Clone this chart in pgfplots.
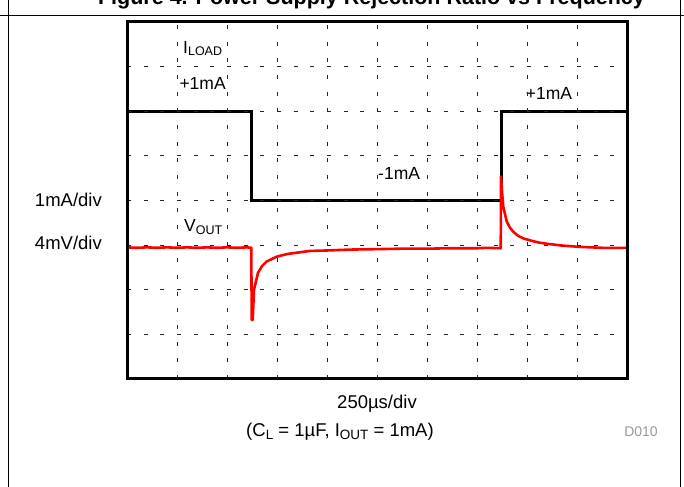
\documentclass[border=0pt]{standalone}
\usepackage{pgfplots}
\pgfplotsset{compat=1.18}
\usepackage{fontspec}
\setmainfont{Liberation Sans}
\newcommand{\lab}{\fontsize{17.5bp}{20bp}\selectfont}
\newcommand{\labb}{\fontsize{18.5bp}{21bp}\selectfont}
\newcommand{\sub}[1]{\raisebox{-2.5bp}{\fontsize{12.5bp}{14bp}\selectfont #1}}
\newcommand{\subb}[1]{\raisebox{-2.5bp}{\fontsize{13.5bp}{15bp}\selectfont #1}}
\begin{document}
\begin{tikzpicture}
% frame rules of the datasheet figure
\draw[line width=0.9bp] (0bp,472bp) -- (684bp,472bp);
\draw[line width=0.9bp] (8.5bp,0bp) -- (8.5bp,487bp);
\draw[line width=0.9bp] (680.5bp,0bp) -- (680.5bp,487bp);
\node[anchor=base, font=\fontsize{21.5bp}{24bp}\selectfont\bfseries, inner sep=0pt] at (371.5bp,482.3bp) {Figure 4. Power Supply Rejection Ratio vs Frequency};
\begin{axis}[
  at={(127bp,108bp)}, anchor=south west,
  scale only axis, width=500bp, height=357bp,
  xmin=0, xmax=10, ymin=0, ymax=8,
  xtick={1,2,3,4,5,6,7,8,9}, ytick={1,2,3,4,5,6,7},
  xticklabels={}, yticklabels={},
  major tick length=0pt,
  grid=major,
  major grid style={black!85, line width=0.9bp, dash pattern=on 4bp off 12.67bp},
  axis line style={line width=3bp},
  axis on top,
  clip=false,
]
\addplot[black, line width=3bp, line join=miter] coordinates {
 (0,6) (2.48,6) (2.48,4) (7.48,4) (7.48,6) (10,6)
};
\addplot[red, line width=2.6bp, line join=round] coordinates {
 (0,2.95) (0.2,2.94) (0.4,2.95) (0.6,2.94) (0.8,2.95) (1.0,2.94) (1.2,2.95)
 (1.4,2.94) (1.6,2.95) (1.8,2.94) (2.0,2.95) (2.2,2.94) (2.4,2.95) (2.485,2.94)
 (2.495,1.32) (2.514,1.32) (2.54,2.0) (2.62,2.38) (2.70,2.53) (2.79,2.63)
 (2.99,2.74) (3.20,2.80) (3.39,2.83) (3.66,2.87) (4.0,2.88) (4.46,2.90)
 (5.0,2.91) (5.46,2.92) (6.0,2.92) (6.46,2.93) (7.0,2.93) (7.2,2.94) (7.475,2.93)
 (7.48,4.54) (7.50,4.20) (7.526,3.86) (7.594,3.53) (7.66,3.39) (7.726,3.30)
 (7.82,3.21) (7.926,3.15) (8.05,3.11) (8.226,3.06) (8.4,3.03) (8.7,2.99)
 (9.06,2.96) (9.5,2.94) (10,2.94)
};
\node[anchor=base west, inner sep=0pt, font=\lab] at (axis cs:1.12,7.30) {I\sub{LOAD}};
\node[anchor=base west, inner sep=0pt, font=\lab] at (axis cs:1.046,6.49) {+1mA};
\node[anchor=base west, inner sep=0pt, font=\lab] at (axis cs:7.974,6.27) {+1mA};
\node[anchor=base west, inner sep=0pt, font=\lab] at (axis cs:5.02,4.46) {-1mA};
\node[anchor=base west, inner sep=0pt, font=\lab] at (axis cs:1.14,3.30) {V\sub{OUT}};
\end{axis}
\node[anchor=base east, inner sep=0pt, font=\labb] at (102bp,280.3bp) {1mA/div};
\node[anchor=base east, inner sep=0pt, font=\labb] at (102bp,237bp) {4mV/div};
\node[anchor=base, inner sep=0pt, font=\labb] at (377bp,78.5bp) {250µs/div};
\node[anchor=base, inner sep=0pt, font=\labb] at (340bp,50bp) {(C\subb{L} = 1µF, I\subb{OUT} = 1mA)};
\node[anchor=base, inner sep=0pt, font=\fontsize{14bp}{16bp}\selectfont, text=black!40] at (641bp,50bp) {D010};
\pgfresetboundingbox
\path[use as bounding box] (0bp,0bp) rectangle (684bp,487bp);
\end{tikzpicture}
\end{document}
